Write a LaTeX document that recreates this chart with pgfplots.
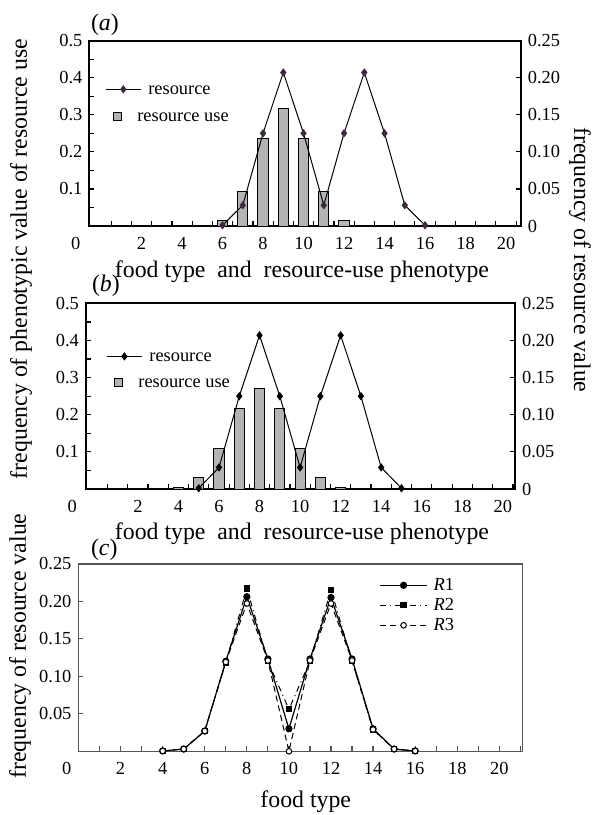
\documentclass[border=0pt]{standalone}
\usepackage{pgfplots}
\pgfplotsset{compat=1.18}
\usepackage{fontspec}
\setmainfont{Liberation Serif}
\definecolor{barfill}{HTML}{B4B4B4}
\definecolor{resmark}{HTML}{3D2B3D}
\definecolor{framec}{HTML}{555555}
\newcommand{\tickfont}{\fontsize{9.2}{10}\selectfont}
\newcommand{\labfont}{\fontsize{11.9}{13}\selectfont}
\pgfplotsset{
  baseax/.style={scale only axis, tick align=inside,
    tick label style={font=\tickfont},
    major tick length=2.5pt, minor tick length=2.5pt,
    tick style={black, line width=0.6pt}},
  lineleg/.style={legend image code/.code={\draw[mark repeat=2,mark phase=2,##1] plot coordinates {(0pt,0pt) (8.75pt,0pt) (17.5pt,0pt)};}},
}
\begin{document}
\begin{tikzpicture}
\useasboundingbox (0,0) rectangle (295.5pt,-407.5pt);
% ---------------- (a) ----------------
\begin{axis}[baseax, at={(44.7pt,-113pt)}, anchor=south west, width=215.7pt, height=92.7pt,
  xmin=-0.575, xmax=20.73, ymin=0, ymax=0.5, clip=false,
  axis line style={line width=1pt},
  xtick pos=bottom, ytick pos=left,
  xtick={2,4,...,20}, xticklabels={2,4,6,8,10,12,14,16,18,20},
  major x tick style={draw=none},
  minor xtick={0.5,1.5,...,20.5},
  ytick={0.1,0.2,0.3,0.4,0.5}, yticklabels={0.1,0.2,0.3,0.4,0.5},
  minor ytick={0.05,0.15,0.25,0.35,0.45},
  xticklabel style={yshift=-2pt}]
\addplot[ybar, bar width=0.5, fill=barfill, draw=black, line width=0.5pt] coordinates {(6,0.016) (7,0.094) (8,0.235) (9,0.316) (10,0.235) (11,0.094) (12,0.016)};
\node[anchor=north east, font=\tickfont, yshift=-2pt, xshift=-1pt] at (rel axis cs:0,0) {0};
\end{axis}
\begin{axis}[baseax, at={(44.7pt,-113pt)}, anchor=south west, width=215.7pt, height=92.7pt,
  xmin=-0.575, xmax=20.73, ymin=0, ymax=0.25,
  axis x line=none, axis y line*=right, axis line style={line width=1pt},
  ytick={0,0.05,0.1,0.15,0.2,0.25}, yticklabels={0,0.05,0.10,0.15,0.20,0.25},
  lineleg,
  legend style={at={(rel axis cs:0.036,0.788)}, anchor=north west, draw=none, fill=none, inner sep=0pt,
    font=\tickfont, row sep=4.5pt, nodes={text height=7pt, text depth=2pt, inner sep=0pt}},
  legend cell align=left]
\addplot[black, line width=0.5pt, mark=diamond*, mark size=1.7pt, mark options={fill=resmark, draw=resmark}] coordinates {(6,0.001) (7,0.028) (8,0.125) (9,0.207) (10,0.125) (11,0.028) (12,0.125) (13,0.207) (14,0.125) (15,0.028) (16,0.001)};
\addlegendentry{\hspace*{3.5pt}resource}
\addlegendimage{legend image code/.code={\draw[fill=barfill, draw=black, line width=0.5pt] (4pt,-2pt) rectangle (8pt,2pt);}}
\addlegendentry{\hspace*{-2pt}resource use}
\end{axis}
% ---------------- (b) ----------------
\begin{axis}[baseax, at={(43pt,-244.5pt)}, anchor=south west, width=214.5pt, height=92.8pt,
  xmin=-0.56, xmax=20.6, ymin=0, ymax=0.5, clip=false,
  axis line style={line width=1pt},
  xtick pos=bottom, ytick pos=left,
  xtick={2,4,...,20}, xticklabels={2,4,6,8,10,12,14,16,18,20},
  major x tick style={draw=none},
  minor xtick={0.5,1.5,...,20.5},
  ytick={0.1,0.2,0.3,0.4,0.5}, yticklabels={0.1,0.2,0.3,0.4,0.5},
  minor ytick={0.05,0.15,0.25,0.35,0.45},
  xticklabel style={yshift=-2pt}]
\addplot[ybar, bar width=0.5, fill=barfill, draw=black, line width=0.5pt] coordinates {(4,0.004) (5,0.032) (6,0.110) (7,0.218) (8,0.272) (9,0.218) (10,0.110) (11,0.032) (12,0.004)};
\node[anchor=north east, font=\tickfont, yshift=-2pt, xshift=-1pt] at (rel axis cs:0,0) {0};
\end{axis}
\begin{axis}[baseax, at={(43pt,-244.5pt)}, anchor=south west, width=214.5pt, height=92.8pt,
  xmin=-0.56, xmax=20.6, ymin=0, ymax=0.25,
  axis x line=none, axis y line*=right, axis line style={line width=1pt},
  ytick={0,0.05,0.1,0.15,0.2,0.25}, yticklabels={0,0.05,0.10,0.15,0.20,0.25},
  lineleg,
  legend style={at={(rel axis cs:0.0466,0.765)}, anchor=north west, draw=none, fill=none, inner sep=0pt,
    font=\tickfont, row sep=4pt, nodes={text height=7pt, text depth=2pt, inner sep=0pt}},
  legend cell align=left]
\addplot[black, line width=0.5pt, mark=diamond*, mark size=1.7pt, mark options={fill=black, draw=black}] coordinates {(5,0.001) (6,0.029) (7,0.125) (8,0.207) (9,0.125) (10,0.029) (11,0.125) (12,0.207) (13,0.125) (14,0.029) (15,0.001)};
\addlegendentry{\hspace*{3.5pt}resource}
\addlegendimage{legend image code/.code={\draw[fill=barfill, draw=black, line width=0.5pt] (4pt,-2pt) rectangle (8pt,2pt);}}
\addlegendentry{\hspace*{-2pt}resource use}
\end{axis}
% ---------------- (c) ----------------
\begin{axis}[baseax, at={(39.25pt,-375.65pt)}, anchor=south west, width=222pt, height=93.8pt,
  xmin=0, xmax=21.1, ymin=0, ymax=0.25, clip=false,
  axis line style={line width=0.8pt, framec},
  xtick pos=bottom, ytick pos=left,
  xtick={2,4,...,20}, xticklabels={2,4,6,8,10,12,14,16,18,20},
  minor xtick={1,3,...,21},
  ytick={0.05,0.1,0.15,0.2,0.25}, yticklabels={0.05,0.10,0.15,0.20,0.25},
  tick style={framec, line width=0.6pt},
  xticklabel style={yshift=-2pt},
  legend image code/.code={\draw[mark repeat=2,mark phase=2,#1] plot coordinates {(0pt,0pt) (11.75pt,0pt) (23.5pt,0pt)};},
  legend style={at={(rel axis cs:0.677,0.935)}, anchor=north west, draw=none, fill=none, inner sep=0pt,
    font=\tickfont, row sep=1pt, nodes={text height=7pt, text depth=2pt, inner sep=0pt}},
  legend cell align=left]
\addplot[black, line width=0.6pt, mark=*, mark size=1.5pt] coordinates {(4,0.0005) (5,0.003) (6,0.027) (7,0.120) (8,0.206) (9,0.123) (10,0.030) (11,0.123) (12,0.205) (13,0.123) (14,0.030) (15,0.003) (16,0.0005)};
\addlegendentry{\hspace*{3pt}\textit{R}1}
\addplot[black, line width=0.5pt, dash dot, mark=square*, mark size=1.3pt, mark options={solid}] coordinates {(4,0.0005) (5,0.003) (6,0.027) (7,0.118) (8,0.217) (9,0.120) (10,0.056) (11,0.120) (12,0.215) (13,0.120) (14,0.029) (15,0.003) (16,0.0005)};
\addlegendentry{\hspace*{3pt}\textit{R}2}
\addplot[black, line width=0.5pt, densely dashed, mark=*, mark size=1.4pt, mark options={solid, fill=white}] coordinates {(4,0.0005) (5,0.003) (6,0.027) (7,0.119) (8,0.197) (9,0.121) (10,0.000) (11,0.121) (12,0.197) (13,0.121) (14,0.029) (15,0.003) (16,0.0005)};
\addlegendentry{\hspace*{3pt}\textit{R}3}
\node[anchor=north east, font=\tickfont, yshift=-2pt, xshift=0pt] at (rel axis cs:0,0) {0};
\end{axis}
% ---------------- labels ----------------
\node[font=\labfont, anchor=west] at (42pt,-12.5pt) {(\textit{a})};
\node[font=\labfont, anchor=west] at (42.5pt,-143pt) {(\textit{b})};
\node[font=\labfont, anchor=west] at (42pt,-275pt) {(\textit{c})};
\node[font=\labfont] at (151pt,-136pt) {food type\enspace and\enspace resource-use phenotype};
\node[font=\labfont] at (151pt,-267pt) {food type\enspace and\enspace resource-use phenotype};
\node[font=\labfont] at (152.85pt,-401pt) {food type};
\node[font=\labfont, rotate=90] at (10.5pt,-129.5pt) {frequency of phenotypic value of resource use};
\node[font=\labfont, rotate=-90] at (290pt,-130pt) {frequency of resource value};
\node[font=\labfont, rotate=90] at (10pt,-323pt) {frequency of resource value};
\end{tikzpicture}
\end{document}
